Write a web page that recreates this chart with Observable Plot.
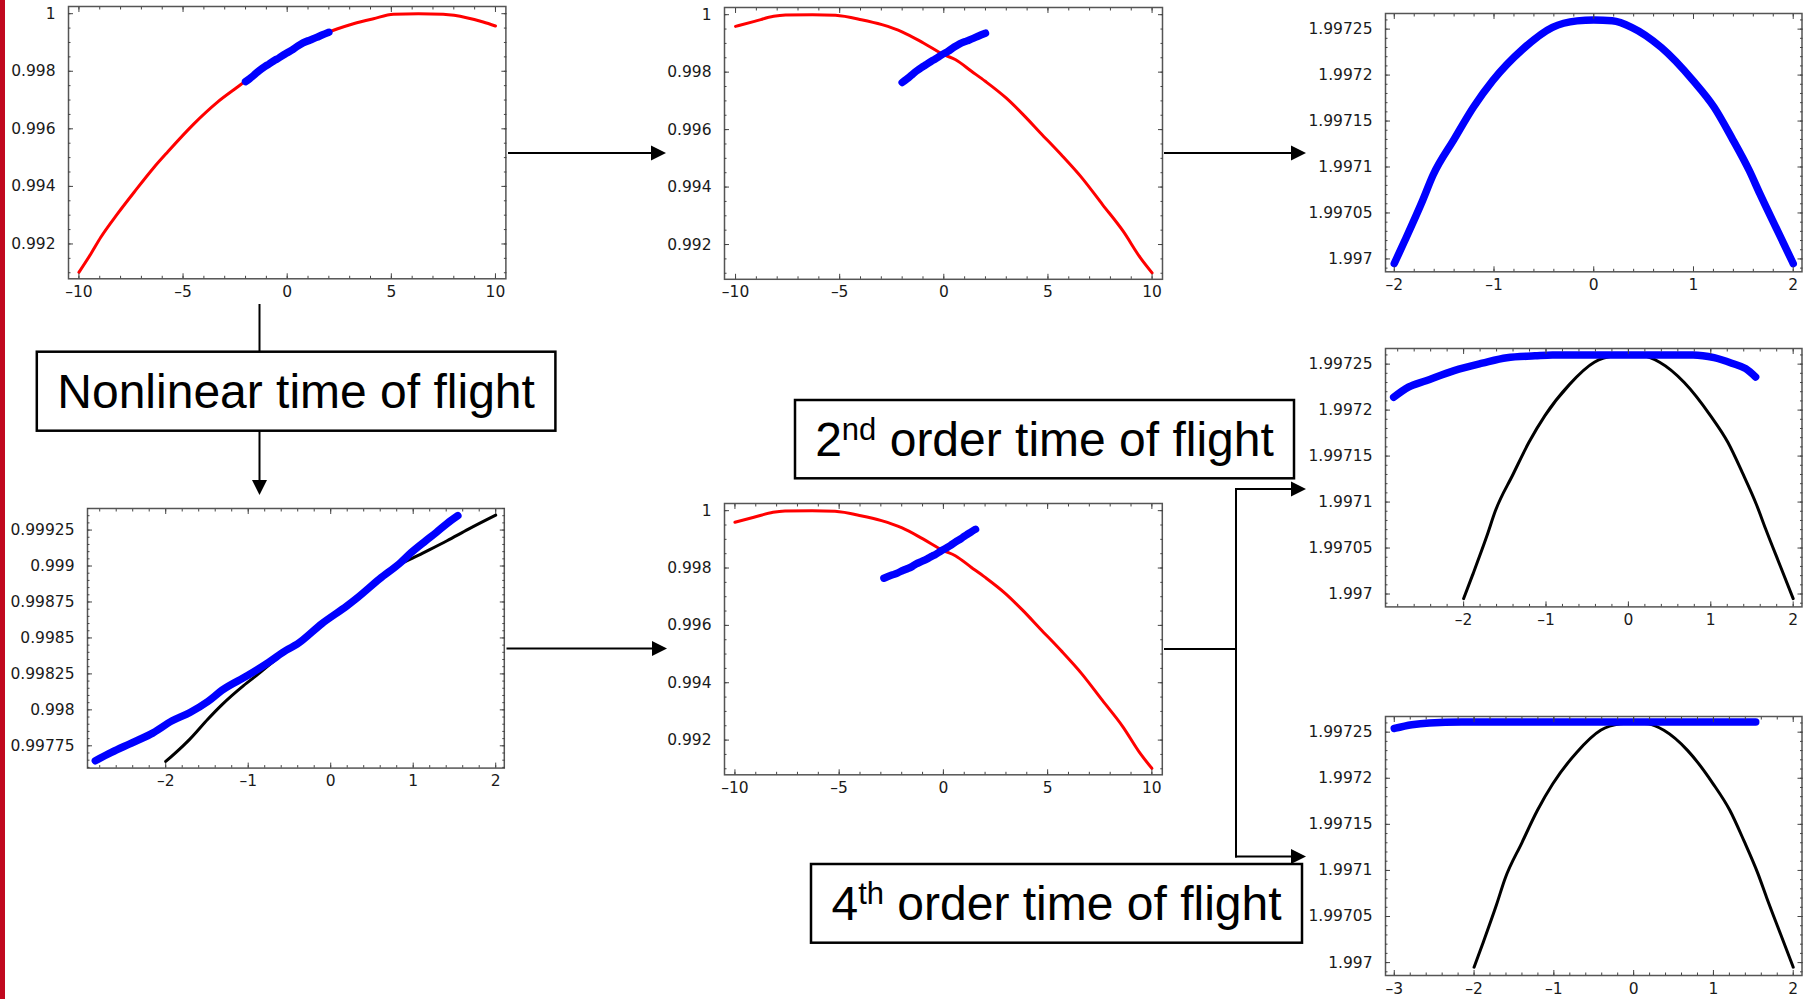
<!DOCTYPE html>
<html><head><meta charset="utf-8">
<script src="https://cdn.jsdelivr.net/npm/d3@7"></script>
<script src="https://cdn.jsdelivr.net/npm/@observablehq/plot@0.6"></script>
<style>
body{margin:0;background:#fff;}
#page{position:relative;width:1811px;height:999px;overflow:hidden;background:#fff;}
#page svg.panel{position:absolute;max-width:none;}
#bar{position:absolute;left:0;top:0;width:5px;height:999px;background:#c1091f;}
#overlay{position:absolute;left:0;top:0;}
</style></head><body><div id="page"><div id="bar"></div></div>
<script>
// ---------- data ----------
// Panel A: initial energy-time curve (red) and bunch (blue)
const redA_x = [-10, -9.43, -8.95, -8.15, -7.35, -6.39, -5.75, -4.48, -3.36, -2.24, -1, 0, 1, 2.39, 3.18, 4.14, 5.1, 6.3, 7.49, 8.61, 9.41, 10];
const redA_y = [0.991015, 0.991652, 0.992232, 0.993044, 0.993797, 0.994667, 0.99519, 0.996174, 0.99692, 0.99753, 0.99823, 0.99866, 0.99906, 0.999467, 0.999652, 0.999826, 0.999977, 1.0, 0.999977, 0.999861, 0.99971, 0.999571];
// original bunch (blue in A/B, black in F)
const bunch_x = [-2.0, -1.79, -1.71, -1.49, -1.32, -1.06, -0.88, -0.58, -0.41, -0.10, 0.20, 0.50, 0.76, 1.11, 1.41, 1.67, 2.0];
const bunch_y = [0.997641, 0.99775, 0.997795, 0.997935, 0.998035, 0.998167, 0.998248, 0.998388, 0.998457, 0.998601, 0.998724, 0.998874, 0.998986, 0.999088, 0.999176, 0.999257, 0.999354];
// flipped curve (red in B and G)
const redF_x = [-10, -9.09, -8.17, -7.6, -6.3, -5.2, -3.96, -2.97, -1.98, -0.98, 0, 0.57, 1.33, 1.99, 2.99, 3.81, 4.64, 5.63, 6.63, 7.62, 8.61, 9.44, 10];
const redF_y = [0.999594, 0.999768, 0.999942, 0.999985, 1.0, 0.999977, 0.999826, 0.999652, 0.999397, 0.999015, 0.99861, 0.99843, 0.998029, 0.997681, 0.997101, 0.996522, 0.995884, 0.99513, 0.994319, 0.993391, 0.992464, 0.991536, 0.991015];
// nonlinear-corrected bunch (blue in F and G)
const corr_x = [-2.853, -2.658, -2.442, -2.182, -1.922, -1.706, -1.489, -1.316, -1.013, -0.753, -0.537, -0.407, -0.104, 0.199, 0.329, 0.589, 0.848, 0.978, 1.152, 1.281, 1.411, 1.541];
const corr_y = [0.997646, 0.997704, 0.997762, 0.997831, 0.997924, 0.997982, 0.998058, 0.998137, 0.998237, 0.99833, 0.998415, 0.998457, 0.998601, 0.998724, 0.998782, 0.998909, 0.999025, 0.999095, 0.999176, 0.999234, 0.999296, 0.99935];
// time of flight of original bunch (blue in C, black in D and E)
const tof_x = [-2, -1.894, -1.718, -1.612, -1.401, -1.207, -1.013, -0.714, -0.414, -0.167, 0, 0.185, 0.379, 0.678, 0.996, 1.207, 1.383, 1.56, 1.665, 1.841, 2];
const tof_y = [1.996995, 1.99702, 1.997063, 1.997091, 1.99713, 1.997165, 1.997194, 1.997228, 1.997252, 1.997259, 1.99726, 1.997259, 1.997252, 1.99723, 1.997194, 1.997165, 1.997132, 1.997096, 1.997071, 1.997031, 1.996995];
// 2nd order time of flight (blue in D)
const tof2_x = [-2.849, -2.67, -2.456, -2.115, -1.774, -1.475, -1.134, -0.921, -0.196, 0.23, 0.785, 1.04, 1.254, 1.424, 1.544];
const tof2_y = [1.997214, 1.997225, 1.997232, 1.997243, 1.997251, 1.997257, 1.997259, 1.99726, 1.99726, 1.99726, 1.99726, 1.997257, 1.997251, 1.997245, 1.997236];
// 4th order time of flight (blue in E)
const tof4_x = [-3.0, -2.78, -2.56, -2.16, -1.0, 0, 1.0, 1.53];
const tof4_y = [1.997254, 1.997258, 1.99726, 1.997261, 1.997261, 1.997261, 1.997261, 1.997261];

// tick labels
const xTicksWide = [-10, -5, 0, 5, 10];
const xTicksNarrow = [-2, -1, 0, 1, 2];
const xTicksE = [-3, -2, -1, 0, 1, 2];
const yTicksEnergy = [0.992, 0.994, 0.996, 0.998, 1];
const yTicksF = [0.99775, 0.998, 0.99825, 0.9985, 0.99875, 0.999, 0.99925];
const yTicksTof = [1.997, 1.99705, 1.9971, 1.99715, 1.9972, 1.99725];

const labels = {
  nonlinear: "Nonlinear time of flight",
  second: ["2", "nd", " order time of flight"],
  fourth: ["4", "th", " order time of flight"]
};

// ---------- helpers ----------
const page = document.getElementById("page");
const ML = 90, MR = 12, MT = 10, MB = 34;
const fmtX = d => (d < 0 ? "\u2013" + Math.abs(d) : String(d));
const fmtY = d => String(+d.toFixed(6));
const steps = (a, b, s) => d3.range(Math.round((b - a) / s) + 1).map(i => +(a + i * s).toFixed(7));
const pts = (xs, ys) => xs.map((x, i) => [x, ys[i]]);

function addPanel({frame: [l, t, r, b], xDomain, yDomain, xMajor, xMinor, yMajor, yMinor, marks}) {
  const inX = v => v >= xDomain[0] && v <= xDomain[1];
  const inY = v => v >= yDomain[0] && v <= yDomain[1];
  const tick = {fill: "none", stroke: "#444", strokeWidth: 1, label: null};
  const axes = [];
  for (const [tx, len] of [[xMinor.filter(inX), 2.5], [xMajor, 5]])
    for (const anchor of ["bottom", "top"]) axes.push(Plot.axisX(tx, {...tick, anchor, tickSize: len, inset: len}));
  for (const [ty, len] of [[yMinor.filter(inY), 2.5], [yMajor, 5]])
    for (const anchor of ["left", "right"]) axes.push(Plot.axisY(ty, {...tick, anchor, tickSize: len, inset: len}));
  const svg = Plot.plot({
    width: (r - l) + ML + MR, height: (b - t) + MT + MB,
    marginLeft: ML, marginRight: MR, marginTop: MT, marginBottom: MB,
    style: {fontFamily: "DejaVu Sans, sans-serif", fontSize: "15.5px", background: "transparent", color: "#1a1a1a", overflow: "visible"},
    x: {domain: xDomain}, y: {domain: yDomain},
    marks: [
      ...marks,
      Plot.frame({stroke: "#555", strokeWidth: 1.5}),
      ...axes,
      Plot.axisX(xMajor, {anchor: "bottom", tickSize: 0, tickPadding: 7, tickFormat: fmtX, label: null}),
      Plot.axisY(yMajor, {anchor: "left", tickSize: 0, tickPadding: 13, tickFormat: fmtY, label: null})
    ]
  });
  svg.classList.add("panel");
  svg.style.left = (l - ML) + "px";
  svg.style.top = (t - MT) + "px";
  page.appendChild(svg);
}
const red = d => Plot.line(d, {stroke: "#ff0000", strokeWidth: 3, strokeLinecap: "round", strokeLinejoin: "round", curve: "monotone-x"});
const blue = d => Plot.line(d, {stroke: "#0000ff", strokeWidth: 7.5, strokeLinecap: "round", strokeLinejoin: "round", curve: "monotone-x"});
const black = d => Plot.line(d, {stroke: "#000", strokeWidth: 3, strokeLinejoin: "round", curve: "monotone-x"});

const energyY = [0.99079, 1.00025];
const tofY = [1.996986, 1.997267];

// A
addPanel({frame: [68.3, 6, 505.7, 278.3], xDomain: [-10.5, 10.5], yDomain: energyY,
  xMajor: xTicksWide, xMinor: steps(-10, 10, 1), yMajor: yTicksEnergy, yMinor: steps(0.9905, 1, 0.0005),
  marks: [red(pts(redA_x, redA_y)), blue(pts(bunch_x, bunch_y))]});
// B
addPanel({frame: [723.7, 6.5, 1161.7, 278.3], xDomain: [-10.53, 10.5], yDomain: energyY,
  xMajor: xTicksWide, xMinor: steps(-10, 10, 1), yMajor: yTicksEnergy, yMinor: steps(0.9905, 1, 0.0005),
  marks: [red(pts(redF_x, redF_y)), blue(pts(bunch_x, bunch_y))]});
// C
addPanel({frame: [1384.7, 12.7, 1801.2, 271], xDomain: [-2.088, 2.088], yDomain: tofY,
  xMajor: xTicksNarrow, xMinor: steps(-2, 2, 0.2), yMajor: yTicksTof, yMinor: steps(1.99699, 1.99726, 0.00001),
  marks: [blue(pts(tof_x, tof_y))]});
// F
addPanel({frame: [86.8, 507.7, 503.6, 767.3], xDomain: [-2.948, 2.104], yDomain: [0.997595, 0.9994],
  xMajor: xTicksNarrow, xMinor: steps(-2.8, 2, 0.2), yMajor: yTicksF, yMinor: steps(0.9976, 0.9994, 0.00005),
  marks: [black(pts(bunch_x, bunch_y)), blue(pts(corr_x, corr_y))]});
// G
addPanel({frame: [723.6, 502.7, 1161.4, 774], xDomain: [-10.5, 10.5], yDomain: energyY,
  xMajor: xTicksWide, xMinor: steps(-10, 10, 1), yMajor: yTicksEnergy, yMinor: steps(0.9905, 1, 0.0005),
  marks: [red(pts(redF_x, redF_y)), blue(pts(corr_x, corr_y))]});
// D
addPanel({frame: [1384.7, 348.3, 1801.2, 606.7], xDomain: [-2.948, 2.107], yDomain: tofY,
  xMajor: xTicksNarrow, xMinor: steps(-2.8, 2, 0.2), yMajor: yTicksTof, yMinor: steps(1.99699, 1.99726, 0.00001),
  marks: [black(pts(tof_x, tof_y)), blue(pts(tof2_x, tof2_y))]});
// E
addPanel({frame: [1384.7, 716, 1801.2, 975], xDomain: [-3.11, 2.11], yDomain: tofY,
  xMajor: xTicksE, xMinor: steps(-3, 2, 0.2), yMajor: yTicksTof, yMinor: steps(1.99699, 1.99726, 0.00001),
  marks: [black(pts(tof_x, tof_y)), blue(pts(tof4_x, tof4_y))]});

// ---------- annotation overlay: arrows and labelled boxes ----------
const ov = d3.select(page).append("svg").attr("id", "overlay").attr("width", 1811).attr("height", 999);
const seg = (x1, y1, x2, y2) => ov.append("line").attr("x1", x1).attr("y1", y1).attr("x2", x2).attr("y2", y2)
  .attr("stroke", "#000").attr("stroke-width", 2);
const headR = (x, y) => ov.append("path").attr("d", `M${x},${y}L${x - 15},${y - 7.5}L${x - 15},${y + 7.5}Z`).attr("fill", "#000");
const headD = (x, y) => ov.append("path").attr("d", `M${x},${y}L${x - 7.5},${y - 15}L${x + 7.5},${y - 15}Z`).attr("fill", "#000");
const arrowR = (x1, x2, y) => { seg(x1, y, x2 - 14, y); headR(x2, y); };

arrowR(508, 666, 153);
arrowR(1164, 1306, 153);
arrowR(506.5, 667, 648.5);
seg(1164, 649, 1236, 649);
seg(1236, 488, 1236, 857.5);
arrowR(1235, 1306, 489);
arrowR(1235, 1306, 856.5);
seg(259.5, 304, 259.5, 352);
seg(259.5, 430, 259.5, 481);
headD(259.5, 495);

function box(x, y, w, h, parts) {
  ov.append("rect").attr("x", x).attr("y", y).attr("width", w).attr("height", h)
    .attr("fill", "#fff").attr("stroke", "#000").attr("stroke-width", 2.5);
  const t = ov.append("text").attr("x", x + w / 2).attr("y", y + h / 2 + 17)
    .attr("text-anchor", "middle").attr("font-family", "Liberation Sans, Arial, sans-serif")
    .attr("font-size", 48).attr("fill", "#000").style("white-space", "pre");
  if (typeof parts === "string") t.text(parts);
  else {
    t.append("tspan").text(parts[0]);
    t.append("tspan").attr("font-size", 31).attr("dy", -16).text(parts[1]);
    t.append("tspan").attr("dy", 16).text(parts[2]);
  }
}
box(36.8, 351.7, 518.6, 79, labels.nonlinear);
box(795, 400, 499, 78.3, labels.second);
box(811, 864, 491, 78.7, labels.fourth);
</script></body></html>
